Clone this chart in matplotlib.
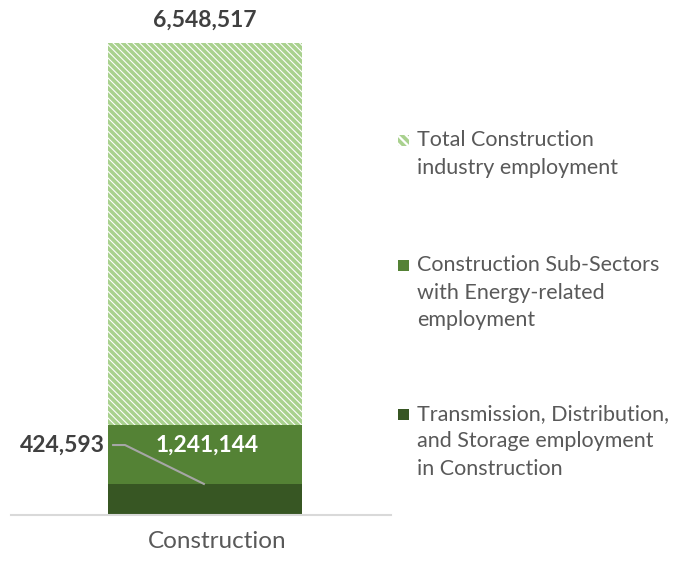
import matplotlib.pyplot as plt
import matplotlib.patches as patches
import matplotlib.transforms as mtransforms

# employment counts, one bar each, drawn from the baseline (overlapping)
category = ["Construction"]
total_construction = [6548517]
energy_subsectors = [1241144]
tds_construction = [424593]

legend_labels = [
    ["Total Construction", "industry employment"],
    ["Construction Sub-Sectors", "with Energy-related", "employment"],
    ["Transmission, Distribution,", "and Storage employment", "in Construction"],
]

light = '#A9D18E'
mid = '#548235'
dark = '#375623'
txt = '#595959'
valtxt = '#404040'

plt.rcParams['font.family'] = ['Lato', 'DejaVu Sans']
plt.rcParams['hatch.linewidth'] = 2.6

fig = plt.figure(figsize=(6.78, 5.71), dpi=100)
ax = fig.add_axes([11 / 678, 56 / 571, 380 / 678, 505 / 571])

w = 0.51
dense = '\\' * 5
ax.bar(category, total_construction, width=w, color='white', edgecolor=light,
       hatch=dense, linewidth=0)
ax.bar(category, energy_subsectors, width=w, color=mid, linewidth=0)
ax.bar(category, tds_construction, width=w, color=dark, linewidth=0)

ax.set_xlim(-0.51, 0.49)
ax.set_ylim(0, 7000000)
ax.set_yticks([])
ax.set_xticks([])
for s in ['left', 'right', 'top']:
    ax.spines[s].set_visible(False)
ax.spines['bottom'].set_color('#D9D9D9')
ax.spines['bottom'].set_linewidth(1.5)

# category label under the axis
trans = mtransforms.blended_transform_factory(ax.transData, ax.transAxes)
ax.text(0.032, -26 / 505, category[0], transform=trans, ha='center', va='center',
        fontsize=17.5, color=txt)

# value labels
vfs = 16.5
ax.text(0, total_construction[0] + 310000, f"{total_construction[0]:,}",
        ha='center', va='center', fontsize=vfs, fontweight='bold', color=valtxt)
lab_y = 970000
ax.text(0.005, lab_y, f"{energy_subsectors[0]:,}", ha='center', va='center',
        fontsize=vfs, fontweight='bold', color='white')
ax.text(-0.262, lab_y, f"{tds_construction[0]:,}", ha='right', va='center',
        fontsize=vfs, fontweight='bold', color=valtxt, clip_on=False)
# leader line from the small label down to its bar
ax.plot([-0.244, -0.21, 0.0], [lab_y, lab_y, tds_construction[0]],
        color='#A6A6A6', lw=1.5, solid_capstyle='butt')

# legend drawn by hand, one line of text at a time
entry_y = [[140, 168], [265, 293, 320], [414, 441, 469]]
swatch = [dict(facecolor='white', edgecolor=light, hatch='\\' * 4, lw=0),
          dict(facecolor=mid, lw=0),
          dict(facecolor=dark, lw=0)]
for lines, ys, sw in zip(legend_labels, entry_y, swatch):
    y0 = 1 - ys[0] / 571
    fig.patches.append(patches.Rectangle((398 / 678, y0 - 5.5 / 571), 11 / 678, 11 / 571,
                                         transform=fig.transFigure, **sw))
    for line, y in zip(lines, ys):
        fig.text(417 / 678, 1 - y / 571, line, ha='left', va='center',
                 fontsize=15.5, color=txt)

plt.savefig('out.png', dpi=100)
